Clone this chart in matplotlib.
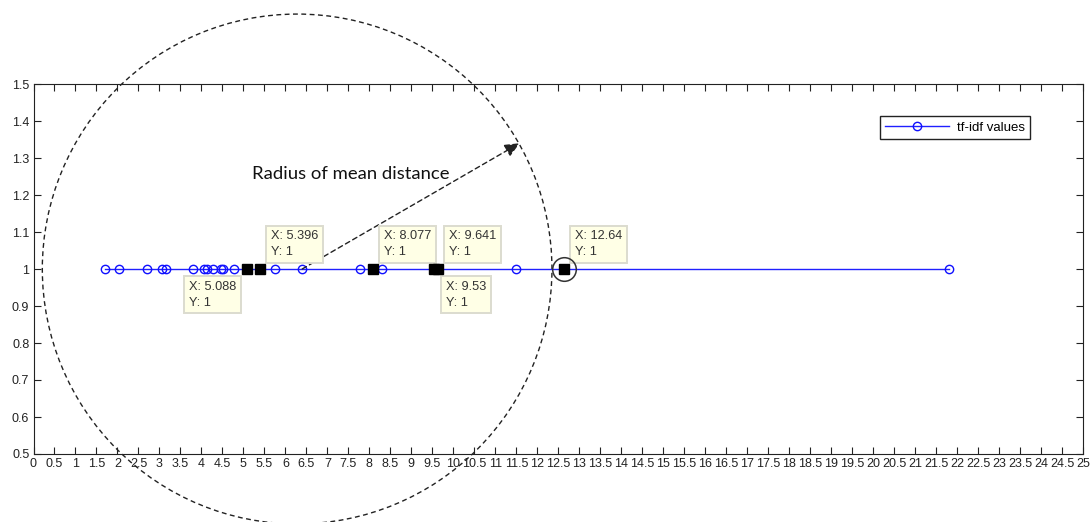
import matplotlib
matplotlib.use("Agg")
import matplotlib.pyplot as plt
from matplotlib.patches import Ellipse
import numpy as np

# ---- data ----
x_values = [1.70, 2.04, 2.70, 3.05, 3.15, 3.80, 4.06, 4.13, 4.28, 4.46, 4.52, 4.77,
            5.088, 5.396, 5.75, 6.40, 7.77, 8.077, 8.30, 9.53, 9.641, 11.49, 12.64, 21.80]
y_values = [1, 1, 1, 1, 1, 1, 1, 1, 1, 1, 1, 1,
            1, 1, 1, 1, 1, 1, 1, 1, 1, 1, 1, 1]
tip_x = [5.088, 5.396, 8.077, 9.53, 9.641, 12.64]
tip_y = [1, 1, 1, 1, 1, 1]
tip_side = ["lower left", "upper right", "upper right", "lower right", "upper right", "upper right"]
series_label = "tf-idf values"
annotation_text = "Radius of mean distance"
xticks = np.arange(0, 25.01, 0.5)
yticks = np.arange(0.5, 1.501, 0.1)

plt.rcParams['font.family'] = ['Liberation Sans', 'DejaVu Sans']

fig = plt.figure(figsize=(10.92, 5.22), dpi=100)
ax = fig.add_axes([33.5 / 1092, 1 - 454 / 522, 1049.5 / 1092, 370 / 522])

ax.plot(x_values, y_values, color='#2020ff', lw=1.0, marker='o', ms=6.0,
        mfc='none', mec='#1010ff', mew=1.0, label=series_label, zorder=3)

# data tips (black squares)
ax.plot(tip_x, tip_y, ls='none', marker='s', ms=7.0, color='black', zorder=7)

offsets = {
    "upper right": ((11, 11), 'left', 'bottom'),
    "lower left": ((-11, -12), 'right', 'top'),
    "lower right": ((12, -12), 'left', 'top'),
}
for xv, yv, side in zip(tip_x, tip_y, tip_side):
    (dx, dy), ha, va = offsets[side]
    ax.annotate(f"X: {xv:g}\nY: {yv:g}", xy=(xv, yv), xytext=(dx, dy),
                textcoords='offset pixels', ha=ha, va=va, fontsize=9.2,
                multialignment='left', color='#333333', linespacing=1.4, zorder=6,
                bbox=dict(boxstyle='square,pad=0.38', fc='#ffffe6', ec='#dcdccf', lw=1.4))

# highlight circle around last tip
ax.plot([tip_x[-1]], [tip_y[-1]], marker='o', ms=17, mfc='none', mec='#333333',
        mew=1.1, ls='none', zorder=8, clip_on=False)

# big dashed circle (radius of mean distance)
circ = Ellipse((6.28, 1.0), width=2 * 6.07, height=2 * 0.689, fill=False,
               ls=(0, (3.5, 2.5)), lw=1.0, ec='#222222', clip_on=False, zorder=2)
ax.add_patch(circ)

# arrow
ax.annotate("", xy=(11.58, 1.34), xytext=(6.40, 1.0),
            arrowprops=dict(arrowstyle='-|>,head_length=0.9,head_width=0.4',
                            ls=(0, (3.5, 2.5)), lw=1.0, color='#222222',
                            shrinkA=0, shrinkB=0), zorder=5)
ax.text(5.2, 1.258, annotation_text, fontsize=13.3, family=['Lato', 'DejaVu Sans'],
        ha='left', va='center', color='#111111', zorder=6)

ax.set_xlim(0, 25)
ax.set_ylim(0.5, 1.5)
ax.set_xticks(xticks)
ax.set_xticklabels([f"{t:g}" for t in xticks])
ax.set_yticks(yticks)
ax.set_yticklabels([f"{t:g}" for t in yticks])
ax.tick_params(direction='in', top=True, right=True, length=5, width=0.8,
               labelsize=9, colors='#222222', pad=3)
for s in ax.spines.values():
    s.set_linewidth(0.8)
    s.set_color('#222222')

leg = ax.legend(loc='upper right', bbox_to_anchor=(0.9495, 0.9135), borderaxespad=0,
                fancybox=False, edgecolor='#222222', fontsize=9.5, handlelength=4.8,
                handletextpad=0.6, borderpad=0.4, framealpha=1)
leg.get_frame().set_linewidth(1.0)

fig.savefig("out.png", dpi=100)
